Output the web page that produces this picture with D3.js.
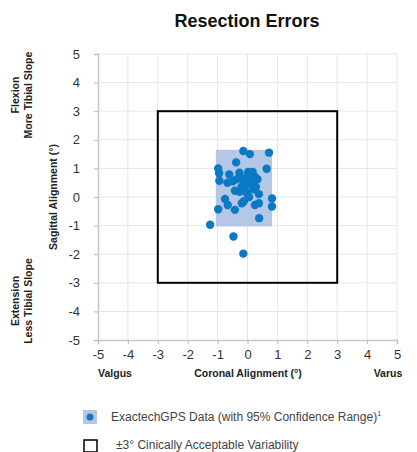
<!DOCTYPE html>
<html>
<head>
<meta charset="utf-8">
<script src="https://cdn.jsdelivr.net/npm/d3@7"></script>
<style>
  body { margin: 0; background: #fff; font-family: "Liberation Sans", Arial, sans-serif; }
  .tick text { font-size: 13px; fill: #333; }
  .lbl { font-size: 10.5px; font-weight: bold; fill: #222; }
</style>
</head>
<body>
<div id="chart"></div>
<script>
// data (degrees)
var xTicks = [-5, -4, -3, -2, -1, 0, 1, 2, 3, 4, 5];
var yTicks = [-5, -4, -3, -2, -1, 0, 1, 2, 3, 4, 5];
var coronal = [-0.14, 0.08, 0.72, -0.38, -0.98, 0.64, -0.95, -0.61, -0.27, 0.03, 0.17, 0.25, 0.33,
  -0.94, -0.67, -0.36, -0.16, -0.03, 0.14, -0.42, -0.27, -0.03, 0.19, 0.38, -0.75, -0.66, -0.42,
  -0.98, -0.19, -0.12, 0.25, 0.38, 0.82, 0.82, 0.39, -1.25, -0.47, -0.14,
  -0.5, 0.1, 0.28, -0.2, 0.05, 0.0];
var sagittal = [1.61, 1.5, 1.55, 1.21, 1.0, 0.99, 0.83, 0.79, 0.85, 0.88, 0.88, 0.71, 0.62,
  0.57, 0.5, 0.62, 0.62, 0.42, 0.47, 0.22, 0.18, 0.14, 0.27, 0.1, -0.07, -0.28, -0.45,
  -0.43, -0.22, -0.15, -0.28, -0.22, -0.05, -0.33, -0.74, -0.97, -1.38, -1.98,
  0.55, 0.65, 0.35, 0.35, 0.0, 0.75];
var ciX = [-1.06, 0.82];
var ciY = [-1.03, 1.65];
var acceptable = [-3, 3];

var W = 417, H = 452;
var svg = d3.select("#chart").append("svg").attr("width", W).attr("height", H);

var x = d3.scaleLinear().domain([-5, 5]).range([98, 397]);
var y = d3.scaleLinear().domain([-5, 5]).range([340, 54]);

// grid
svg.append("g").selectAll("line.v").data(xTicks.slice(1)).enter().append("line")
  .attr("x1", d => x(d)).attr("x2", d => x(d)).attr("y1", y(5)).attr("y2", y(-5))
  .attr("stroke", "#e6e6e6").attr("stroke-width", 1);
svg.append("g").selectAll("line.h").data(yTicks.slice(1)).enter().append("line")
  .attr("x1", x(-5)).attr("x2", x(5)).attr("y1", d => y(d)).attr("y2", d => y(d))
  .attr("stroke", "#e6e6e6").attr("stroke-width", 1);

// axes (plain hyphen minus like the original)
var fmt = function (d) { return String(d); };
var xAxis = d3.axisBottom(x).tickValues(xTicks).tickFormat(fmt).tickSize(4).tickPadding(6);
var yAxis = d3.axisLeft(y).tickValues(yTicks).tickFormat(fmt).tickSize(4).tickPadding(14);
var xg = svg.append("g").attr("transform", "translate(0," + y(-5) + ")").call(xAxis);
var yg = svg.append("g").attr("transform", "translate(" + x(-5) + ",0)").call(yAxis);
[xg, yg].forEach(function (g) {
  g.select(".domain").attr("stroke", "#c8c8c8").attr("stroke-width", 1.5);
  g.selectAll(".tick line").attr("stroke", "#bbb");
  g.selectAll(".tick text").attr("font-family", "Liberation Sans, Arial, sans-serif");
});

// confidence range
svg.append("rect")
  .attr("x", x(ciX[0])).attr("y", y(ciY[1]))
  .attr("width", x(ciX[1]) - x(ciX[0])).attr("height", y(ciY[0]) - y(ciY[1]))
  .attr("fill", "#b4c7e7");

// acceptable box
svg.append("rect")
  .attr("x", x(acceptable[0])).attr("y", y(acceptable[1]))
  .attr("width", x(acceptable[1]) - x(acceptable[0])).attr("height", y(acceptable[0]) - y(acceptable[1]))
  .attr("fill", "none").attr("stroke", "#000").attr("stroke-width", 2);

// points
svg.append("g").selectAll("circle").data(coronal).enter().append("circle")
  .attr("cx", d => x(d)).attr("cy", (d, i) => y(sagittal[i]))
  .attr("r", 4.2).attr("fill", "#0b79c4");

// title
svg.append("text").attr("x", 247).attr("y", 27).attr("text-anchor", "middle")
  .attr("font-size", 18).attr("font-weight", "bold").attr("fill", "#111").text("Resection Errors");

// axis labels
svg.append("text").attr("class", "lbl").attr("x", 115).attr("y", 377).attr("text-anchor", "middle").text("Valgus");
svg.append("text").attr("class", "lbl").attr("x", 248).attr("y", 377).attr("text-anchor", "middle").text("Coronal Alignment (°)");
svg.append("text").attr("class", "lbl").attr("x", 388).attr("y", 377).attr("text-anchor", "middle").text("Varus");

function vlabel(cx, cy, txt) {
  svg.append("text").attr("class", "lbl").attr("text-anchor", "middle")
    .attr("transform", "translate(" + cx + "," + cy + ") rotate(-90)").text(txt);
}
vlabel(57, 197, "Sagittal Alignment (°)");
vlabel(19, 95, "Flexion");
vlabel(32, 95, "More Tibial Slope");
vlabel(19, 301, "Extension");
vlabel(32, 301, "Less Tibial Slope");

// legend
var lg = svg.append("g").attr("font-size", 12).attr("fill", "#444");
lg.append("rect").attr("x", 83).attr("y", 410).attr("width", 14).attr("height", 14).attr("fill", "#b4c7e7");
lg.append("circle").attr("cx", 90).attr("cy", 417).attr("r", 3.5).attr("fill", "#0b79c4");
var t1 = lg.append("text").attr("x", 111).attr("y", 421).attr("fill", "#444").text("ExactechGPS Data (with 95% Confidence Range)");
t1.append("tspan").attr("font-size", 7).attr("dy", -5).text("1");
lg.append("rect").attr("x", 84).attr("y", 440).attr("width", 13).attr("height", 12)
  .attr("fill", "none").attr("stroke", "#000").attr("stroke-width", 1.5);
lg.append("text").attr("x", 116).attr("y", 449).attr("fill", "#444").text("±3° Cinically Acceptable Variability");
</script>
</body>
</html>
